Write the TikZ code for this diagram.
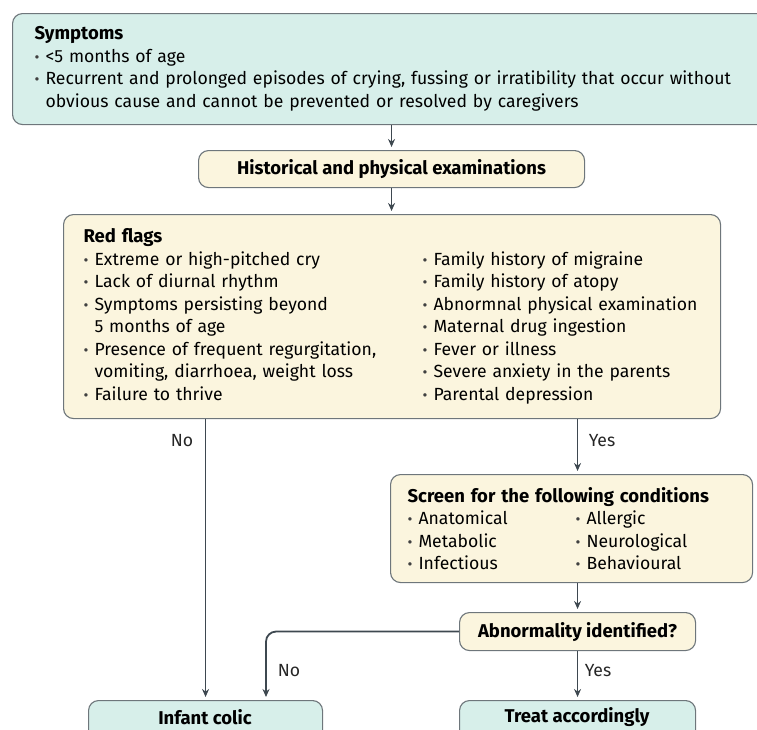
\documentclass[tikz,border=0pt]{standalone}
\usepackage{fontspec}
\setmainfont{Fira Sans}
\usetikzlibrary{arrows.meta}
\definecolor{tealfill}{HTML}{D7EFEA}
\definecolor{creamfill}{HTML}{FBF5DE}
\definecolor{boxline}{HTML}{6E767B}
\definecolor{arrowcol}{HTML}{3E4850}
\newcommand\bul{\makebox[11pt][l]{\fontsize{15}{15}\selectfont\color{black!75}•}}
\newcommand\cont{\hspace*{11pt}}
\newcommand\hd[1]{{\fontsize{18.5}{22.5}\selectfont\bfseries #1}}
\begin{document}
\begin{tikzpicture}[x=1pt,y=-1pt,
  font=\fontsize{17.6}{22.5}\selectfont,
  boxbase/.style={draw=boxline, line width=1.1pt, rounded corners=10pt, anchor=north west, inner ysep=0pt},
  tealbox/.style={boxbase, fill=tealfill},
  creambox/.style={boxbase, fill=creamfill},
  bfont/.style={font=\fontsize{18.5}{20}\selectfont\bfseries},
  arr/.style={draw=arrowcol, line width=1.8pt, -{Stealth[length=8pt,width=7pt]}, shorten >=3pt},
  lbl/.style={inner sep=0pt, text=black!85}
]
\useasboundingbox (0,0) rectangle (757,729);
\clip (0,0) rectangle (757,729);

\node[tealbox, minimum width=760pt, minimum height=111pt, text width=716pt, inner xsep=22pt, align=left] (sym) at (12,13)
{\hd{Symptoms}\\
\bul<5 months of age\\
\bul Recurrent and prolonged episodes of crying, fussing or irratibility that occur without\\
\cont obvious cause and cannot be prevented or resolved by caregivers};

\node[creambox, minimum width=386pt, minimum height=37pt, align=center, bfont] (hist) at (198,150) {Historical and physical examinations};

\node[creambox, minimum width=657pt, minimum height=204pt, text width=617pt, inner xsep=20pt, align=left] (red) at (63,214)
{\hd{Red flags}\\
\begin{minipage}[t]{339pt}\raggedright
\bul Extreme or high-pitched cry\\
\bul Lack of diurnal rhythm\\
\bul Symptoms persisting beyond\\
\cont 5 months of age\\
\bul Presence of frequent regurgitation,\\
\cont vomiting, diarrhoea, weight loss\\
\bul Failure to thrive
\end{minipage}%
\begin{minipage}[t]{278pt}\raggedright
\bul Family history of migraine\\
\bul Family history of atopy\\
\bul Abnormnal physical examination\\
\bul Maternal drug ingestion\\
\bul Fever or illness\\
\bul Severe anxiety in the parents\\
\bul Parental depression
\end{minipage}};

\node[creambox, minimum width=362pt, minimum height=108pt, text width=328pt, inner xsep=17pt, align=left] (screen) at (390,474)
{\hd{Screen for the following conditions}\\
\begin{minipage}[t]{168pt}\raggedright
\bul Anatomical\\
\bul Metabolic\\
\bul Infectious
\end{minipage}%
\begin{minipage}[t]{160pt}\raggedright
\bul Allergic\\
\bul Neurological\\
\bul Behavioural
\end{minipage}};

\node[creambox, minimum width=236pt, minimum height=38pt, align=center, bfont] (abn) at (459,612) {Abnormality identified?};

\node[tealbox, minimum width=234pt, minimum height=50pt] (infant) at (88,700) {};
\node[tealbox, minimum width=236pt, minimum height=50pt] (treat) at (459,700) {};
\node[bfont, inner sep=0pt] (infantt) at (205,717) {Infant colic};
\node[bfont, inner sep=0pt] (treatt) at (577,717) {Treat accordingly};

\coordinate (nodrop) at (266,700);

\draw[arr] (hist.north |- sym.south) -- (hist.north);
\draw[arr] (hist.south) -- (hist.south |- red.north);
\draw[arr] (infant.north |- red.south) -- (infant.north);
\draw[arr] (abn.north |- red.south) -- (abn.north |- screen.north);
\draw[arr] (abn.north |- screen.south) -- (abn.north);
\draw[arr] (abn.south) -- (treat.north);
\draw[arr, rounded corners=10pt] (abn.west) -| (nodrop);

\node[lbl] (l1) at (182,441) {No};
\node[lbl] (l2) at (602,441) {Yes};
\node[lbl] (l3) at (289,671) {No};
\node[lbl] (l4) at (598,671) {Yes};
\end{tikzpicture}
\end{document}
